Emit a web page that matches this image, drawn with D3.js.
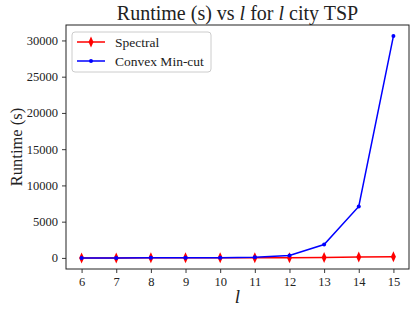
<!DOCTYPE html>
<html>
<head>
<meta charset="utf-8">
<script src="https://cdn.jsdelivr.net/npm/d3@7"></script>
<style>
  body { margin: 0; background: #fff; }
  text { font-family: "Liberation Serif", "DejaVu Serif", serif; fill: #222; }
</style>
</head>
<body>
<div id="chart"></div>
<script>
const cities = [6, 7, 8, 9, 10, 11, 12, 13, 14, 15];
const spectral = [2, 3, 5, 8, 12, 20, 35, 60, 110, 160];
const convex = [1, 2, 5, 10, 25, 80, 320, 1840, 7090, 30600];
const yTicks = [0, 5000, 10000, 15000, 20000, 25000, 30000];
const seriesNames = ["Spectral", "Convex Min-cut"];

const W = 416, H = 313;
const margin = { top: 25, right: 7, bottom: 44, left: 66 };
const width = W - margin.left - margin.right;
const height = H - margin.top - margin.bottom;

const svg = d3.select("#chart").append("svg")
    .attr("width", W).attr("height", H);

const g = svg.append("g")
    .attr("transform", "translate(" + margin.left + "," + margin.top + ")");

const x = d3.scaleLinear().domain([5.55, 15.45]).range([0, width]);
const y = d3.scaleLinear().domain([-1530, 32130]).range([height, 0]);

// axes
const xAxis = g.append("g")
    .attr("transform", "translate(0," + height + ")")
    .call(d3.axisBottom(x).tickValues(cities).tickFormat(d3.format("d")).tickSize(4).tickPadding(4));
const yAxis = g.append("g")
    .call(d3.axisLeft(y).tickValues(yTicks).tickFormat(d3.format("d")).tickSize(4).tickPadding(4));

[xAxis, yAxis].forEach(a => {
    a.select(".domain").remove();
    a.selectAll("line").attr("stroke", "#222").attr("stroke-width", 0.9);
    a.selectAll("text").style("font-size", "12.5px").attr("fill", "#222")
        .style("font-family", "'Liberation Serif', serif");
});

// frame
g.append("rect")
    .attr("width", width).attr("height", height)
    .attr("fill", "none").attr("stroke", "#222").attr("stroke-width", 1);

const line = d3.line().x((d, i) => x(cities[i])).y(d => y(d));

// spectral
g.append("path").datum(spectral)
    .attr("d", line).attr("fill", "none").attr("stroke", "red").attr("stroke-width", 1.5);
const diamond = "M0,-5.5L2.5,0L0,5.5L-2.5,0Z";
g.selectAll(".spec").data(spectral).enter().append("path")
    .attr("class", "spec")
    .attr("d", diamond)
    .attr("transform", (d, i) => "translate(" + x(cities[i]) + "," + y(d) + ")")
    .attr("fill", "red");

// convex
g.append("path").datum(convex)
    .attr("d", line).attr("fill", "none").attr("stroke", "blue").attr("stroke-width", 1.5);
g.selectAll(".conv").data(convex).enter().append("circle")
    .attr("class", "conv")
    .attr("cx", (d, i) => x(cities[i])).attr("cy", d => y(d))
    .attr("r", 2).attr("fill", "blue");

// legend
const lg = g.append("g").attr("transform", "translate(6,7)");
lg.append("rect")
    .attr("width", 139).attr("height", 40).attr("rx", 3)
    .attr("fill", "#fff").attr("fill-opacity", 0.8)
    .attr("stroke", "#ccc").attr("stroke-width", 1);
const colors = ["red", "blue"];
seriesNames.forEach((name, i) => {
    const ry = 10 + i * 19;
    lg.append("line").attr("x1", 5).attr("x2", 33).attr("y1", ry).attr("y2", ry)
        .attr("stroke", colors[i]).attr("stroke-width", 1.5);
    if (i === 0) {
        lg.append("path").attr("d", diamond)
            .attr("transform", "translate(19," + ry + ")").attr("fill", "red");
    } else {
        lg.append("circle").attr("cx", 19).attr("cy", ry).attr("r", 2).attr("fill", "blue");
    }
    lg.append("text").attr("x", 43).attr("y", ry + 4.5)
        .style("font-size", "13.5px").text(name);
});

// title
svg.append("text")
    .attr("x", margin.left + width / 2).attr("y", 20)
    .attr("text-anchor", "middle").style("font-size", "20px")
    .html('Runtime (s) vs <tspan font-style="italic">l</tspan> for <tspan font-style="italic">l</tspan> city TSP');

// axis labels
svg.append("text")
    .attr("transform", "translate(22," + (margin.top + height / 2) + ") rotate(-90)")
    .attr("text-anchor", "middle").style("font-size", "16.5px")
    .text("Runtime (s)");
svg.append("text")
    .attr("x", margin.left + width / 2).attr("y", H - 10)
    .attr("text-anchor", "middle").style("font-size", "19px").style("font-style", "italic")
    .text("l");
</script>
</body>
</html>
